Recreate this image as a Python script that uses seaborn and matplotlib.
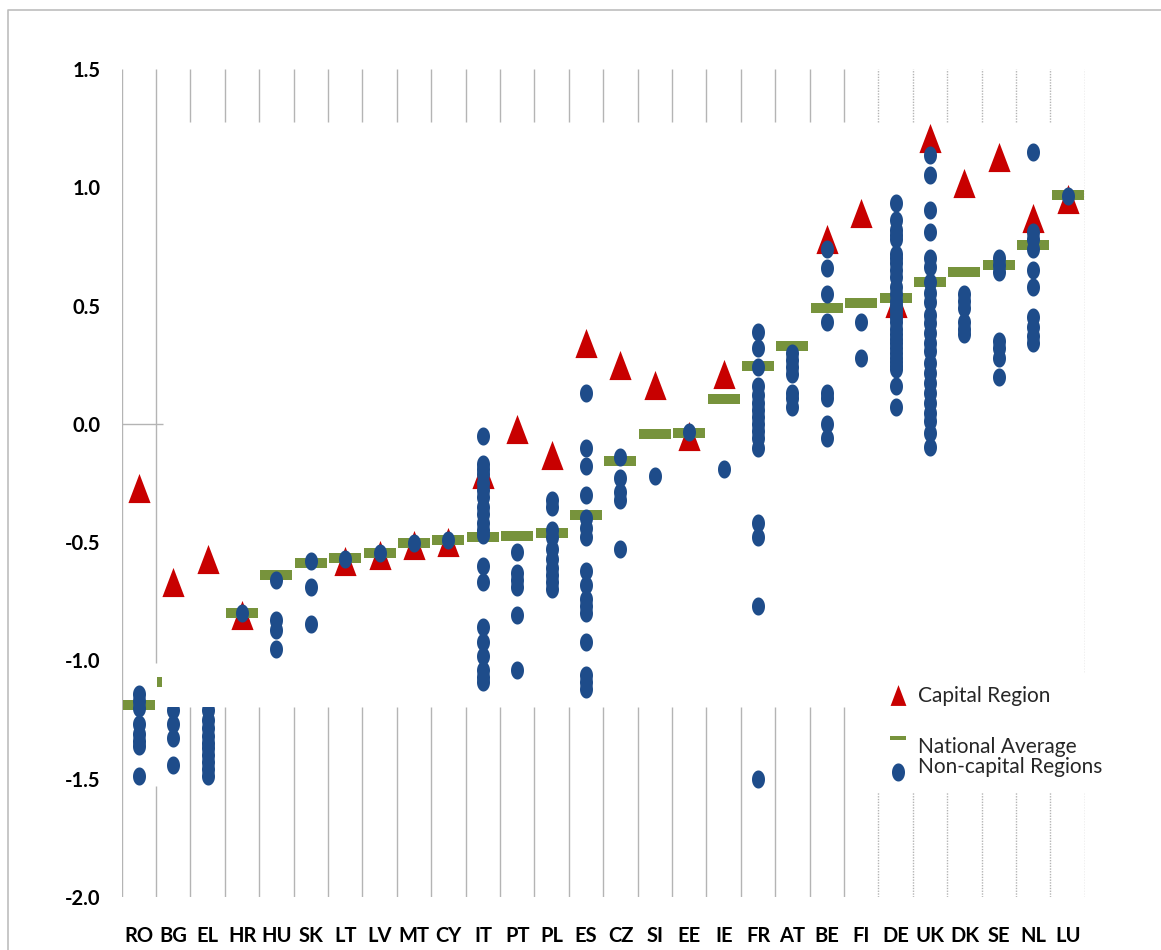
import numpy as np
import pandas as pd
import matplotlib
matplotlib.use("Agg")
import matplotlib.pyplot as plt
from matplotlib.lines import Line2D
from matplotlib.patches import Rectangle
import seaborn as sns

# ---------------- data ----------------
countries = ["RO", "BG", "EL", "HR", "HU", "SK", "LT", "LV", "MT", "CY", "IT", "PT", "PL", "ES",
             "CZ", "SI", "EE", "IE", "FR", "AT", "BE", "FI", "DE", "UK", "DK", "SE", "NL", "LU"]

nan = np.nan
capital = [-0.27, -0.67, -0.57, -0.81, nan, nan, -0.58, -0.555, -0.51, -0.50, -0.21, -0.02, -0.13, 0.34,
           0.25, 0.165, -0.05, 0.21, nan, nan, 0.78, 0.89, 0.51, 1.21, 1.02, 1.13, 0.87, 0.95]

national_avg = [-1.19, -1.09, nan, -0.80, -0.64, -0.59, -0.566, -0.545, -0.503, -0.49, -0.48, -0.472, -0.46, -0.386,
                -0.158, -0.041, -0.037, 0.107, 0.245, 0.327, 0.489, 0.51, 0.534, 0.60, 0.64, 0.672, 0.755, 0.968]

nc_RO = [-1.14, -1.17, -1.20, -1.27, -1.31, -1.34, -1.36, -1.49]
nc_BG = [-1.21, -1.27, -1.33, -1.44]
nc_EL = [-1.21, -1.25, -1.285, -1.32, -1.35, -1.37, -1.40, -1.43, -1.46, -1.49]
nc_HR = [-0.80]
nc_HU = [-0.66, -0.83, -0.87, -0.95]
nc_SK = [-0.58, -0.69, -0.845]
nc_LT = [-0.57]
nc_LV = [-0.545]
nc_MT = [-0.503]
nc_CY = [-0.49]
nc_IT = [-0.05, -0.17, -0.19, -0.21, -0.25, -0.28, -0.31, -0.35, -0.38, -0.42, -0.45, -0.47,
         -0.60, -0.67, -0.86, -0.92, -0.98, -1.04, -1.07, -1.09]
nc_PT = [-0.54, -0.63, -0.66, -0.69, -0.81, -1.04]
nc_PL = [-0.32, -0.35, -0.45, -0.48, -0.53, -0.57, -0.61, -0.64, -0.67, -0.70]
nc_ES = [0.13, -0.10, -0.18, -0.30, -0.40, -0.44, -0.48, -0.62, -0.68, -0.74, -0.77, -0.80,
         -0.92, -1.06, -1.09, -1.12]
nc_CZ = [-0.14, -0.23, -0.29, -0.32, -0.53]
nc_SI = [-0.22]
nc_EE = [-0.035]
nc_IE = [-0.19]
nc_FR = [0.39, 0.32, 0.24, 0.16, 0.12, 0.09, 0.06, 0.03, 0.0, -0.03, -0.06, -0.10, -0.42, -0.48, -0.77, -1.50]
nc_AT = [0.30, 0.27, 0.24, 0.21, 0.13, 0.11, 0.07]
nc_BE = [0.74, 0.66, 0.55, 0.43, 0.13, 0.11, 0.0, -0.06]
nc_FI = [0.43, 0.28]
nc_DE = [0.935, 0.86, 0.82, 0.80, 0.78, 0.72, 0.70, 0.68, 0.65, 0.62, 0.58, 0.55, 0.52, 0.50, 0.475,
         0.45, 0.43, 0.40, 0.38, 0.36, 0.34, 0.32, 0.30, 0.28, 0.26, 0.245, 0.23, 0.16, 0.07]
nc_UK = [1.137, 1.052, 0.904, 0.813, 0.70, 0.665, 0.60, 0.552, 0.517, 0.46, 0.425, 0.383, 0.34, 0.306,
         0.256, 0.214, 0.172, 0.13, 0.087, 0.045, 0.01, -0.04, -0.096]
nc_DK = [0.55, 0.52, 0.49, 0.43, 0.40, 0.38]
nc_SE = [0.70, 0.67, 0.64, 0.35, 0.32, 0.28, 0.20]
nc_NL = [1.15, 0.81, 0.78, 0.74, 0.65, 0.58, 0.45, 0.41, 0.37, 0.34]
nc_LU = [0.965]

noncapital = [nc_RO, nc_BG, nc_EL, nc_HR, nc_HU, nc_SK, nc_LT, nc_LV, nc_MT, nc_CY, nc_IT, nc_PT, nc_PL,
              nc_ES, nc_CZ, nc_SI, nc_EE, nc_IE, nc_FR, nc_AT, nc_BE, nc_FI, nc_DE, nc_UK, nc_DK, nc_SE,
              nc_NL, nc_LU]

ytick_values = [1.5, 1.0, 0.5, 0.0, -0.5, -1.0, -1.5, -2.0]
ytick_labels = ["1.5", "1.0", "0.5", "0.0", "-0.5", "-1.0", "-1.5", "-2.0"]
legend_labels = ["Capital Region", "National Average", "Non-capital Regions"]

# ---------------- tables ----------------
cap_df = pd.DataFrame({"country": countries, "value": capital}).dropna()
avg_df = pd.DataFrame({"country": countries, "value": national_avg}).dropna()
nc_df = pd.DataFrame([(c, v) for c, vals in zip(countries, noncapital) for v in vals],
                     columns=["country", "value"])

# ---------------- style ----------------
RED = "#C80000"
BLUE = "#1E4C8A"
GREEN = "#77933C"
GRID = "#B4B4B4"

tri_marker = [(-0.76, -1.0), (0.76, -1.0), (0.0, 1.0), (-0.76, -1.0)]
_t = np.linspace(0, 2 * np.pi, 64)
dot_marker = list(zip(0.72 * np.cos(_t), np.sin(_t)))
dash_marker = [(-1, -0.33), (1, -0.33), (1, 0.33), (-1, 0.33), (-1, -0.33)]
# legend handles, drawn slightly off the text centre as in the original legend
leg_dash_marker = [(-1, 0.80), (1, 0.80), (1, 1.34), (-1, 1.34), (-1, 0.80)]
leg_dot_marker = list(zip(0.72 * np.cos(_t), np.sin(_t) - 0.66))

sns.set_theme(style="white")
plt.rcParams["font.family"] = ["Lato", "DejaVu Sans"]

fig = plt.figure(figsize=(11.61, 9.5), dpi=100)
ax = fig.add_axes([0.10482, 0.05579, 0.82963, 0.87158])

sns.stripplot(data=cap_df, x="country", y="value", order=countries, jitter=False,
              marker=tri_marker, size=21, color=RED, linewidth=0, zorder=2, ax=ax)
sns.stripplot(data=avg_df, x="country", y="value", order=countries, jitter=False,
              marker=dash_marker, size=23, color=GREEN, linewidth=0, zorder=3, ax=ax)
sns.stripplot(data=nc_df, x="country", y="value", order=countries, jitter=False,
              marker=dot_marker, size=13, color=BLUE, linewidth=0, zorder=4, ax=ax)

n = len(countries)
ax.set_xlim(-0.5, n - 0.5)
ax.set_ylim(-2.0, 1.5)
for s in ax.spines.values():
    s.set_visible(False)
ax.grid(False)

# vertical gridlines (partly masked as in the original composite image)
ax.vlines(-0.5, -2.0, 1.5, colors=GRID, linewidth=1.0, zorder=0.5)
ax.vlines(0.5, -1.01, 1.5, colors=GRID, linewidth=1.0, zorder=0.5)
ax.vlines(0.5, -2.0, -1.53, colors=GRID, linewidth=1.0, zorder=0.5)
for k in range(2, 22):
    ax.vlines(k - 0.5, 1.276, 1.5, colors=GRID, linewidth=1.0, zorder=0.5)
    ax.vlines(k - 0.5, -2.0, -1.196, colors=GRID, linewidth=1.0, zorder=0.5)
for k in range(22, n + 1):
    ax.vlines(k - 0.5, 1.276 if k < n else -1.05, 1.5, colors=GRID, linewidth=1.0,
              linestyles=(0, (1, 1)), zorder=0.5)
    ax.vlines(k - 0.5, -2.0, -1.555, colors=GRID, linewidth=1.0,
              linestyles=(0, (1, 1)), zorder=0.5)
ax.hlines(0.0, -0.5, 0.70, colors=GRID, linewidth=1.0, zorder=0.5)

# white mask present in the original around BG / EL
ax.add_patch(Rectangle((0.669, -1.196), 1.83, 0.2, facecolor="white", edgecolor="none", zorder=6))

ax.set_xlabel("")
ax.set_ylabel("")
ax.set_yticks(ytick_values)
ax.set_yticklabels(ytick_labels)
ax.tick_params(axis="x", length=0, pad=21, labelsize=14.5, labelcolor="black")
ax.tick_params(axis="y", length=0, pad=15, labelsize=14.5, labelcolor="black")
for lab in ax.get_xticklabels() + ax.get_yticklabels():
    lab.set_fontweight("bold")

h_cap = Line2D([], [], marker=tri_marker, color=RED, linestyle="None", markersize=15, markeredgewidth=0)
h_avg = Line2D([], [], marker=leg_dash_marker, color=GREEN, linestyle="None", markersize=14.5,
               markeredgewidth=0)
h_nc = Line2D([], [], marker=leg_dot_marker, color=BLUE, linestyle="None", markersize=21.6,
              markeredgewidth=0)

leg_kw = dict(bbox_transform=fig.transFigure, frameon=False, fontsize=15, handlelength=1.0,
              handletextpad=0.45, borderpad=0, borderaxespad=0)
leg1 = ax.legend([h_cap], legend_labels[:1], loc="center left",
                 bbox_to_anchor=(888 / 1161, 1 - 696 / 950), **leg_kw)
ax.add_artist(leg1)
ax.legend([h_avg, h_nc], legend_labels[1:], loc="center left",
          bbox_to_anchor=(888 / 1161, 1 - 757 / 950), labelspacing=0.0, **leg_kw)

# outer frame lines of the original picture
fig.add_artist(Line2D([8 / 1161, 8 / 1161, 1.0], [0.0, 1 - 10 / 950, 1 - 10 / 950],
                      transform=fig.transFigure, color="#BDBDBD", linewidth=1.2))

fig.savefig("out.png", dpi=100)
